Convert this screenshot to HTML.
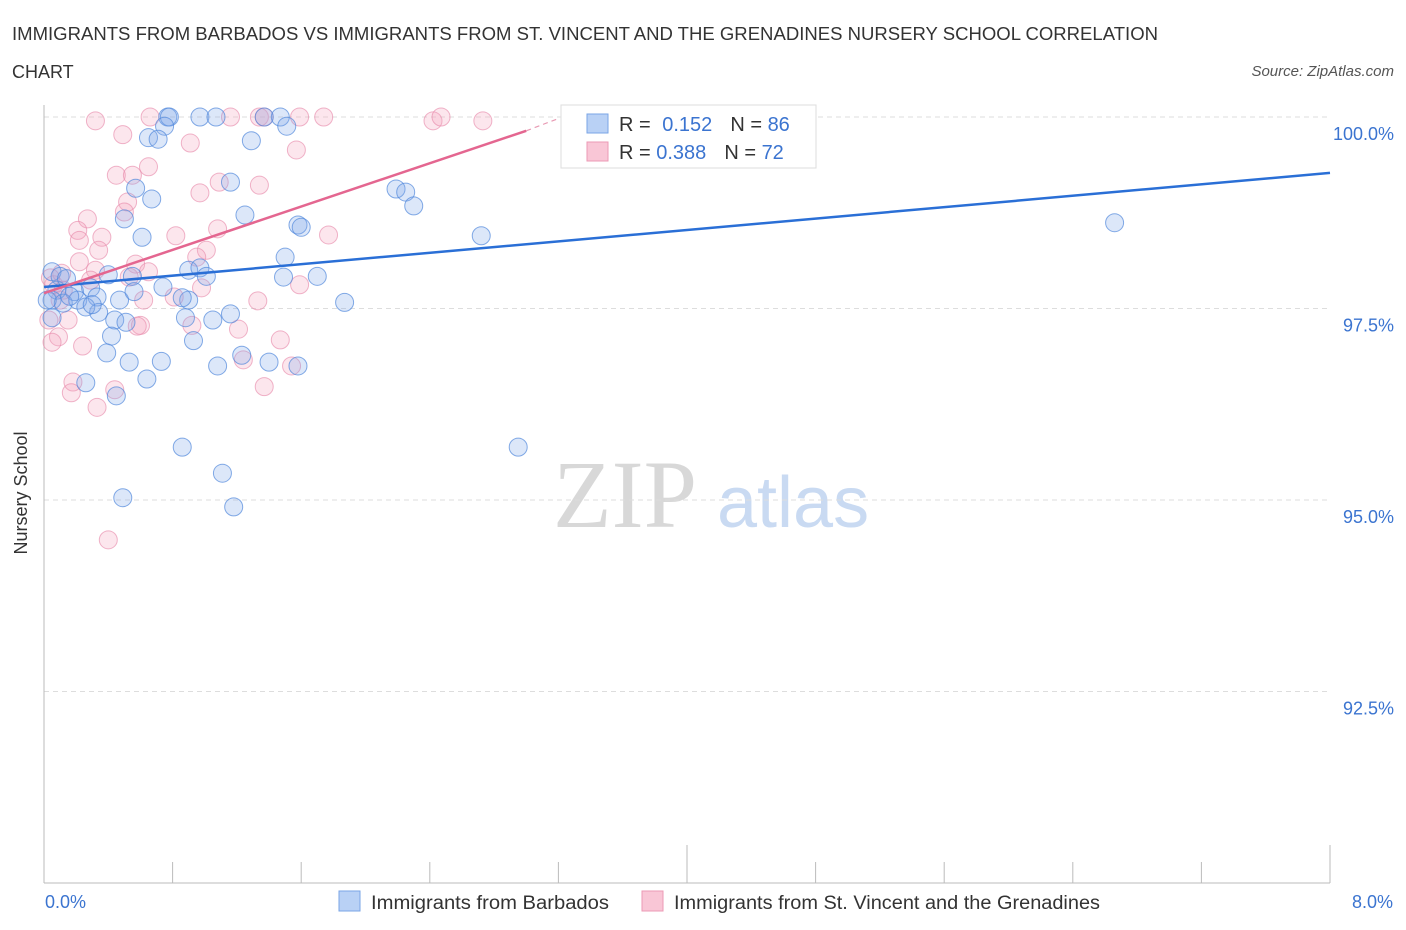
<!DOCTYPE html>
<html><head><meta charset="utf-8"><style>
body{margin:0;background:#fff;font-family:"Liberation Sans",sans-serif;}
svg{display:block}
</style></head><body>
<svg id="chart" width="1406" height="930" xmlns="http://www.w3.org/2000/svg">
<text x="12" y="40" font-size="18" fill="#333" textLength="1146" lengthAdjust="spacingAndGlyphs">IMMIGRANTS FROM BARBADOS VS IMMIGRANTS FROM ST. VINCENT AND THE GRENADINES NURSERY SCHOOL CORRELATION</text>
<text x="12" y="78" font-size="18" fill="#333">CHART</text>
<text x="1394" y="76" font-size="15" fill="#555" font-style="italic" text-anchor="end">Source: ZipAtlas.com</text>
<text x="27" y="493" font-size="18" fill="#333" text-anchor="middle" transform="rotate(-90 27 493)">Nursery School</text>
<g>
<text x="553" y="527" font-size="96" fill="#d8d8d8" font-family="Liberation Serif,serif">ZIP</text>
<text x="717" y="527" font-size="72" fill="#c9daf2">atlas</text>
</g>
<g id="grid"></g>
<g id="axes"></g>
<g id="pts"></g>
<g id="trend"></g>
<g>
<rect x="561" y="105" width="255" height="63" fill="#fff" stroke="#ddd"/>
<rect x="587" y="114" width="21" height="19" fill="#b9d1f5" stroke="#7aa5e6"/>
<rect x="587" y="142" width="21" height="19" fill="#f9c6d6" stroke="#ec9ab5"/>
<text x="619" y="131" font-size="20" fill="#333">R = <tspan fill="#3b74d0" dx="6">0.152</tspan><tspan fill="#333" dx="18">N = </tspan><tspan fill="#3b74d0">86</tspan></text>
<text x="619" y="159" font-size="20" fill="#333">R = <tspan fill="#3b74d0">0.388</tspan><tspan fill="#333" dx="18">N = </tspan><tspan fill="#3b74d0">72</tspan></text>
</g>
<g>
<rect x="339" y="891" width="21" height="20" fill="#b9d1f5" stroke="#7aa5e6"/>
<text x="371" y="909" font-size="19" fill="#333" textLength="238" lengthAdjust="spacingAndGlyphs">Immigrants from Barbados</text>
<rect x="642" y="891" width="21" height="20" fill="#f9c6d6" stroke="#ec9ab5"/>
<text x="674" y="909" font-size="19" fill="#333" textLength="426" lengthAdjust="spacingAndGlyphs">Immigrants from St. Vincent and the Grenadines</text>
</g>
</svg>
<script>
const xTicksLabels=["0.0%","8.0%"];
const yTicks=[100,97.5,95,92.5];
const yTickLabels=["100.0%","97.5%","95.0%","92.5%"];
const blueX=[0.77,0.78,0.97,1.07,1.37,1.47,1.51,0.75,0.65,0.71,1.29,0.57,0.67,1.16,1.25,0.50,0.61,1.58,1.60,2.19,2.25,2.30,2.72,6.66,1.50,0.90,0.97,1.01,1.49,1.70,0.40,0.55,0.05,0.10,0.08,0.14,0.19,0.29,0.33,0.47,0.56,0.74,0.90,0.86,1.87,0.05,0.12,0.21,0.34,0.26,0.44,0.51,0.88,1.05,1.16,0.42,0.93,0.39,0.53,0.73,1.23,1.08,1.40,1.58,0.64,0.26,0.45,0.86,2.95,1.11,0.49,1.18,0.05,0.02,0.16,0.30];
const blueY=[100,100,100,100,100,100,99.88,99.88,99.73,99.71,99.69,99.07,98.93,99.15,98.72,98.67,98.43,98.59,98.56,99.06,99.02,98.84,98.45,98.62,98.17,98.00,98.03,97.92,97.91,97.92,97.94,97.92,97.98,97.92,97.74,97.89,97.72,97.77,97.65,97.61,97.72,97.78,97.61,97.64,97.58,97.61,97.57,97.61,97.45,97.52,97.35,97.32,97.38,97.35,97.43,97.14,97.08,96.92,96.80,96.81,96.89,96.75,96.80,96.75,96.58,96.53,96.36,95.69,95.69,95.35,95.03,94.91,97.38,97.61,97.66,97.55];
const pinkX=[0.32,0.49,0.66,0.91,1.34,1.37,1.16,1.59,1.74,2.42,2.47,2.73,1.57,0.65,0.45,0.55,0.52,0.50,1.09,1.34,0.97,0.27,0.21,0.22,0.36,0.82,1.08,1.01,1.77,0.34,0.22,0.32,0.57,0.95,0.53,0.65,1.59,1.33,0.81,0.98,0.62,0.06,0.12,0.03,0.15,0.60,0.58,0.92,1.21,1.47,0.09,0.05,0.24,0.18,0.17,0.44,0.33,1.24,1.54,1.37,0.40,0.11,0.04,0.10,0.29];
const pinkY=[99.95,99.77,100,99.66,100,100,100,100,100,99.95,100,99.95,99.57,99.35,99.24,99.24,98.89,98.76,99.15,99.11,99.01,98.67,98.52,98.39,98.43,98.45,98.54,98.26,98.46,98.26,98.11,98.00,98.08,98.17,97.91,97.98,97.81,97.60,97.65,97.77,97.61,97.81,97.74,97.35,97.35,97.28,97.27,97.28,97.23,97.09,97.13,97.06,97.01,96.54,96.40,96.44,96.21,96.83,96.75,96.48,94.48,97.96,97.90,97.61,97.87];
const blueTrendX=[0,8];const blueTrendY=[97.78,99.27];
const pinkTrendX=[0,3.0];const pinkTrendY=[97.70,99.82];
const pinkDashX=[3.0,3.2];const pinkDashY=[99.82,99.98];
const X0=44,X1=1330,Y100=117,PX25=191.5;
const sx=v=>X0+v/8*(X1-X0);
const sy=v=>Y100+(100-v)/2.5*PX25;
const NS="http://www.w3.org/2000/svg";
function mk(p,t,a){const e=document.createElementNS(NS,t);for(const k in a)e.setAttribute(k,a[k]);p.appendChild(e);return e;}
const grid=document.getElementById('grid'),axes=document.getElementById('axes');
yTicks.forEach((t,i)=>{
 const l=mk(grid,'line',{x1:X0,x2:X1,y1:sy(t),y2:sy(t),stroke:'#ddd','stroke-dasharray':'5,4'});
 
 
 const tx=mk(axes,'text',{x:1394,y:sy(t)+23,'font-size':18,fill:'#3b74d0','text-anchor':'end'});
 tx.textContent=yTickLabels[i];
 
 
});
let a=mk(axes,'line',{x1:X0,x2:X0,y1:105,y2:883,stroke:'#bbb'});


a=mk(axes,'line',{x1:X0,x2:X1,y1:883,y2:883,stroke:'#bbb'});


for(let i=0;i<=10;i++){const t=mk(axes,'line',{x1:sx(i*0.8),x2:sx(i*0.8),y1:i%5==0?845:862,y2:883,stroke:'#bbb'});
 
 }
let xl=mk(axes,'text',{x:45,y:908,'font-size':18,fill:'#3b74d0'});xl.textContent=xTicksLabels[0];


xl=mk(axes,'text',{x:1393,y:908,'font-size':18,fill:'#3b74d0','text-anchor':'end'});xl.textContent=xTicksLabels[1];


const pts=document.getElementById('pts');
function dots(X,Y,fill,stroke,name){X.forEach((x,i)=>{
 const c=mk(pts,'circle',{cx:sx(x),cy:sy(Y[i]),r:9,fill:fill,stroke:stroke,'stroke-width':1});
 
 });}
dots(pinkX,pinkY,'rgba(244,165,192,0.28)','rgba(232,140,172,0.65)','point-stvincent');
dots(blueX,blueY,'rgba(130,170,235,0.28)','rgba(80,135,220,0.7)','point-barbados');
const tr=document.getElementById('trend');
let l=mk(tr,'line',{x1:sx(blueTrendX[0]),y1:sy(blueTrendY[0]),x2:sx(blueTrendX[1]),y2:sy(blueTrendY[1]),stroke:'#2a6fd6','stroke-width':2.5});


l=mk(tr,'line',{x1:sx(pinkTrendX[0]),y1:sy(pinkTrendY[0]),x2:sx(pinkTrendX[1]),y2:sy(pinkTrendY[1]),stroke:'#e46690','stroke-width':2.5});


l=mk(tr,'line',{x1:sx(pinkDashX[0]),y1:sy(pinkDashY[0]),x2:sx(pinkDashX[1]),y2:sy(pinkDashY[1]),stroke:'#e89ab3','stroke-width':1.2,'stroke-dasharray':'5,4'});


</script>
</body></html>
